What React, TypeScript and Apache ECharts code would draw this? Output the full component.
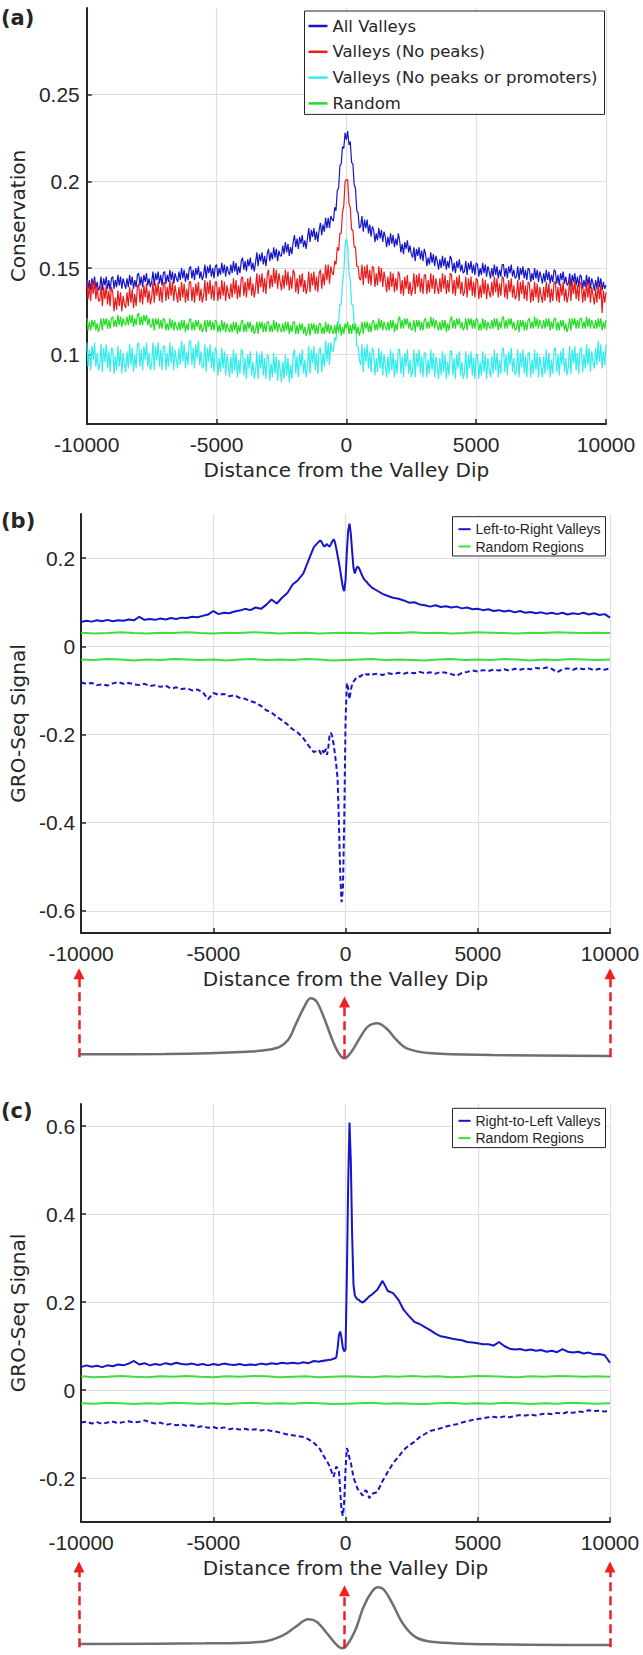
import React, { useEffect, useRef } from 'react';
import * as echarts from 'echarts';

// ---------- axis ticks ----------
const X_MIN = -10000;
const X_MAX = 10000;
const X_INTERVAL = 5000;
const yTicksA = [0.1, 0.15, 0.2, 0.25];
const yTicksB = [-0.6, -0.4, -0.2, 0, 0.2];
const yTicksC = [-0.2, 0, 0.2, 0.4, 0.6];

// ---------- sampling grids (distance from valley dip) ----------
const range = (a: number, b: number, s: number) => { const r: number[] = []; for (let x = a; x <= b; x += s) r.push(x); return r; };
const xA = range(-10000, 10000, 50); // 401 points
const xFine = [...range(-10000, -1000, 200), ...range(-950, 950, 50), ...range(1000, 10000, 200)]; // 131 points
const xGreen = range(-10000, 10000, 500); // 41 points

// ---------- panel (a): conservation (one row = 500 bp) ----------
const allValleys = [
  0.145, 0.138, 0.143, 0.137, 0.144, 0.140, 0.145, 0.138, 0.142, 0.137,
  0.139, 0.145, 0.137, 0.144, 0.140, 0.145, 0.138, 0.143, 0.137, 0.144,
  0.145, 0.138, 0.143, 0.139, 0.146, 0.140, 0.145, 0.138, 0.144, 0.141,
  0.138, 0.144, 0.139, 0.146, 0.140, 0.145, 0.138, 0.143, 0.139, 0.146,
  0.147, 0.140, 0.145, 0.139, 0.146, 0.142, 0.147, 0.140, 0.144, 0.139,
  0.142, 0.148, 0.140, 0.147, 0.143, 0.148, 0.141, 0.146, 0.140, 0.147,
  0.148, 0.141, 0.146, 0.142, 0.149, 0.143, 0.148, 0.141, 0.147, 0.144,
  0.142, 0.148, 0.143, 0.150, 0.144, 0.149, 0.142, 0.147, 0.143, 0.150,
  0.151, 0.144, 0.149, 0.143, 0.150, 0.146, 0.151, 0.144, 0.148, 0.143,
  0.146, 0.152, 0.144, 0.151, 0.147, 0.152, 0.145, 0.150, 0.144, 0.151,
  0.152, 0.145, 0.150, 0.146, 0.153, 0.147, 0.152, 0.145, 0.151, 0.148,
  0.146, 0.152, 0.147, 0.154, 0.148, 0.153, 0.146, 0.151, 0.147, 0.154,
  0.156, 0.149, 0.154, 0.148, 0.155, 0.151, 0.156, 0.149, 0.153, 0.148,
  0.153, 0.159, 0.151, 0.158, 0.154, 0.159, 0.152, 0.157, 0.151, 0.158,
  0.161, 0.154, 0.159, 0.155, 0.162, 0.156, 0.161, 0.154, 0.160, 0.157,
  0.157, 0.163, 0.158, 0.165, 0.159, 0.164, 0.157, 0.162, 0.158, 0.165,
  0.169, 0.162, 0.167, 0.161, 0.168, 0.164, 0.169, 0.162, 0.166, 0.161,
  0.167, 0.173, 0.165, 0.172, 0.168, 0.173, 0.166, 0.171, 0.165, 0.172,
  0.176, 0.169, 0.175, 0.171, 0.179, 0.173, 0.179, 0.173, 0.180, 0.178,
  0.177, 0.185, 0.183, 0.195, 0.196, 0.209, 0.210, 0.220, 0.219, 0.228,
  0.224,
  0.229, 0.221, 0.223, 0.211, 0.210, 0.198, 0.196, 0.183, 0.182, 0.173,
  0.174, 0.180, 0.171, 0.178, 0.173, 0.178, 0.170, 0.175, 0.168, 0.174,
  0.172, 0.165, 0.170, 0.166, 0.173, 0.167, 0.172, 0.165, 0.171, 0.168,
  0.162, 0.168, 0.163, 0.170, 0.164, 0.169, 0.162, 0.167, 0.163, 0.170,
  0.166, 0.159, 0.164, 0.158, 0.165, 0.161, 0.166, 0.159, 0.163, 0.158,
  0.156, 0.162, 0.154, 0.161, 0.157, 0.162, 0.155, 0.160, 0.154, 0.161,
  0.158, 0.151, 0.156, 0.152, 0.159, 0.153, 0.158, 0.151, 0.157, 0.154,
  0.149, 0.155, 0.150, 0.157, 0.151, 0.156, 0.149, 0.154, 0.150, 0.157,
  0.155, 0.148, 0.153, 0.147, 0.154, 0.150, 0.155, 0.148, 0.152, 0.147,
  0.148, 0.154, 0.146, 0.153, 0.149, 0.154, 0.147, 0.152, 0.146, 0.153,
  0.152, 0.145, 0.150, 0.146, 0.153, 0.147, 0.152, 0.145, 0.151, 0.148,
  0.144, 0.150, 0.145, 0.152, 0.146, 0.151, 0.144, 0.149, 0.145, 0.152,
  0.152, 0.145, 0.150, 0.144, 0.151, 0.147, 0.152, 0.145, 0.149, 0.144,
  0.145, 0.151, 0.143, 0.150, 0.146, 0.151, 0.144, 0.149, 0.143, 0.150,
  0.149, 0.142, 0.147, 0.143, 0.150, 0.144, 0.149, 0.142, 0.148, 0.145,
  0.141, 0.147, 0.142, 0.149, 0.143, 0.148, 0.141, 0.146, 0.142, 0.149,
  0.148, 0.141, 0.146, 0.140, 0.147, 0.143, 0.148, 0.141, 0.145, 0.140,
  0.141, 0.147, 0.139, 0.146, 0.142, 0.147, 0.140, 0.145, 0.139, 0.146,
  0.145, 0.138, 0.143, 0.139, 0.146, 0.140, 0.145, 0.138, 0.144, 0.141,
  0.137, 0.143, 0.138, 0.145, 0.139, 0.144, 0.137, 0.142, 0.138, 0.140,
];
const valleysNoPeaks = [
  0.143, 0.132, 0.140, 0.131, 0.142, 0.135, 0.143, 0.132, 0.139, 0.131,
  0.131, 0.140, 0.128, 0.139, 0.132, 0.140, 0.129, 0.137, 0.128, 0.139,
  0.136, 0.125, 0.133, 0.126, 0.137, 0.128, 0.136, 0.125, 0.134, 0.129,
  0.127, 0.136, 0.128, 0.139, 0.130, 0.138, 0.127, 0.135, 0.128, 0.139,
  0.141, 0.130, 0.138, 0.129, 0.140, 0.133, 0.141, 0.130, 0.137, 0.129,
  0.133, 0.142, 0.130, 0.141, 0.134, 0.142, 0.131, 0.139, 0.130, 0.141,
  0.142, 0.131, 0.139, 0.132, 0.143, 0.134, 0.142, 0.131, 0.140, 0.135,
  0.130, 0.139, 0.131, 0.142, 0.133, 0.141, 0.130, 0.138, 0.131, 0.142,
  0.142, 0.131, 0.139, 0.130, 0.141, 0.134, 0.142, 0.131, 0.138, 0.130,
  0.134, 0.143, 0.131, 0.142, 0.135, 0.143, 0.132, 0.140, 0.131, 0.142,
  0.142, 0.131, 0.139, 0.132, 0.143, 0.134, 0.142, 0.131, 0.140, 0.135,
  0.132, 0.141, 0.133, 0.144, 0.135, 0.143, 0.132, 0.140, 0.133, 0.144,
  0.145, 0.134, 0.142, 0.133, 0.144, 0.137, 0.145, 0.134, 0.141, 0.133,
  0.138, 0.147, 0.135, 0.146, 0.139, 0.147, 0.136, 0.144, 0.135, 0.146,
  0.149, 0.138, 0.146, 0.139, 0.150, 0.141, 0.149, 0.138, 0.147, 0.142,
  0.137, 0.146, 0.138, 0.149, 0.140, 0.148, 0.137, 0.145, 0.138, 0.149,
  0.147, 0.136, 0.144, 0.135, 0.146, 0.139, 0.147, 0.136, 0.143, 0.135,
  0.139, 0.148, 0.136, 0.147, 0.140, 0.148, 0.137, 0.145, 0.136, 0.147,
  0.149, 0.138, 0.147, 0.140, 0.152, 0.143, 0.152, 0.141, 0.151, 0.147,
  0.146, 0.154, 0.152, 0.162, 0.160, 0.170, 0.170, 0.182, 0.186, 0.200,
  0.201,
  0.201, 0.187, 0.185, 0.172, 0.172, 0.162, 0.162, 0.151, 0.151, 0.144,
  0.143, 0.152, 0.140, 0.151, 0.144, 0.152, 0.141, 0.149, 0.140, 0.151,
  0.150, 0.139, 0.147, 0.140, 0.151, 0.142, 0.150, 0.139, 0.148, 0.143,
  0.136, 0.145, 0.137, 0.148, 0.139, 0.147, 0.136, 0.144, 0.137, 0.148,
  0.146, 0.135, 0.143, 0.134, 0.145, 0.138, 0.146, 0.135, 0.142, 0.134,
  0.138, 0.147, 0.135, 0.146, 0.139, 0.147, 0.136, 0.144, 0.135, 0.146,
  0.146, 0.135, 0.143, 0.136, 0.147, 0.138, 0.146, 0.135, 0.144, 0.139,
  0.135, 0.144, 0.136, 0.147, 0.138, 0.146, 0.135, 0.143, 0.136, 0.147,
  0.146, 0.135, 0.143, 0.134, 0.145, 0.138, 0.146, 0.135, 0.142, 0.134,
  0.136, 0.145, 0.133, 0.144, 0.137, 0.145, 0.134, 0.142, 0.133, 0.144,
  0.143, 0.132, 0.140, 0.133, 0.144, 0.135, 0.143, 0.132, 0.141, 0.136,
  0.133, 0.142, 0.134, 0.145, 0.136, 0.144, 0.133, 0.141, 0.134, 0.145,
  0.144, 0.133, 0.141, 0.132, 0.143, 0.136, 0.144, 0.133, 0.140, 0.132,
  0.134, 0.143, 0.131, 0.142, 0.135, 0.143, 0.132, 0.140, 0.131, 0.142,
  0.141, 0.130, 0.138, 0.131, 0.142, 0.133, 0.141, 0.130, 0.139, 0.134,
  0.130, 0.139, 0.131, 0.142, 0.133, 0.141, 0.130, 0.138, 0.131, 0.142,
  0.142, 0.131, 0.139, 0.130, 0.141, 0.134, 0.142, 0.131, 0.138, 0.130,
  0.134, 0.143, 0.131, 0.142, 0.135, 0.143, 0.132, 0.140, 0.131, 0.142,
  0.141, 0.130, 0.138, 0.131, 0.142, 0.133, 0.141, 0.130, 0.139, 0.134,
  0.129, 0.138, 0.130, 0.141, 0.132, 0.140, 0.124, 0.137, 0.130, 0.136,
];
const valleysNoPeaksNoPromoters = [
  0.107, 0.093, 0.103, 0.091, 0.105, 0.097, 0.107, 0.093, 0.101, 0.091,
  0.094, 0.106, 0.090, 0.104, 0.096, 0.106, 0.092, 0.102, 0.090, 0.104,
  0.103, 0.089, 0.099, 0.091, 0.105, 0.093, 0.103, 0.089, 0.101, 0.095,
  0.090, 0.102, 0.092, 0.106, 0.094, 0.104, 0.090, 0.100, 0.092, 0.106,
  0.107, 0.093, 0.103, 0.091, 0.105, 0.097, 0.107, 0.093, 0.101, 0.091,
  0.095, 0.107, 0.091, 0.105, 0.097, 0.107, 0.093, 0.103, 0.091, 0.105,
  0.105, 0.091, 0.101, 0.093, 0.107, 0.095, 0.105, 0.091, 0.103, 0.097,
  0.092, 0.104, 0.094, 0.108, 0.096, 0.106, 0.092, 0.102, 0.094, 0.108,
  0.108, 0.094, 0.104, 0.092, 0.106, 0.098, 0.108, 0.094, 0.102, 0.092,
  0.094, 0.106, 0.090, 0.104, 0.096, 0.106, 0.092, 0.102, 0.090, 0.104,
  0.102, 0.088, 0.098, 0.090, 0.104, 0.092, 0.102, 0.088, 0.100, 0.094,
  0.087, 0.099, 0.089, 0.103, 0.091, 0.101, 0.087, 0.097, 0.089, 0.103,
  0.102, 0.088, 0.098, 0.086, 0.100, 0.092, 0.102, 0.088, 0.096, 0.086,
  0.090, 0.102, 0.086, 0.100, 0.092, 0.102, 0.088, 0.098, 0.086, 0.100,
  0.099, 0.085, 0.095, 0.087, 0.101, 0.089, 0.099, 0.085, 0.097, 0.091,
  0.084, 0.096, 0.086, 0.100, 0.088, 0.098, 0.084, 0.094, 0.086, 0.100,
  0.103, 0.089, 0.099, 0.087, 0.101, 0.093, 0.103, 0.089, 0.097, 0.087,
  0.093, 0.105, 0.089, 0.103, 0.095, 0.105, 0.091, 0.101, 0.089, 0.103,
  0.104, 0.090, 0.101, 0.093, 0.108, 0.096, 0.107, 0.094, 0.107, 0.102,
  0.102, 0.110, 0.108, 0.119, 0.118, 0.129, 0.129, 0.142, 0.147, 0.163,
  0.167,
  0.163, 0.147, 0.143, 0.129, 0.129, 0.118, 0.117, 0.105, 0.105, 0.097,
  0.094, 0.106, 0.090, 0.104, 0.096, 0.106, 0.092, 0.102, 0.090, 0.104,
  0.102, 0.088, 0.098, 0.090, 0.104, 0.092, 0.102, 0.088, 0.100, 0.094,
  0.087, 0.099, 0.089, 0.103, 0.091, 0.101, 0.087, 0.097, 0.089, 0.103,
  0.103, 0.089, 0.099, 0.087, 0.101, 0.093, 0.103, 0.089, 0.097, 0.087,
  0.091, 0.103, 0.087, 0.101, 0.093, 0.103, 0.089, 0.099, 0.087, 0.101,
  0.101, 0.087, 0.097, 0.089, 0.103, 0.091, 0.101, 0.087, 0.099, 0.093,
  0.086, 0.098, 0.088, 0.102, 0.090, 0.100, 0.086, 0.096, 0.088, 0.102,
  0.102, 0.088, 0.098, 0.086, 0.100, 0.092, 0.102, 0.088, 0.096, 0.086,
  0.090, 0.102, 0.086, 0.100, 0.092, 0.102, 0.088, 0.098, 0.086, 0.100,
  0.100, 0.086, 0.096, 0.088, 0.102, 0.090, 0.100, 0.086, 0.098, 0.092,
  0.087, 0.099, 0.089, 0.103, 0.091, 0.101, 0.087, 0.097, 0.089, 0.103,
  0.104, 0.090, 0.100, 0.088, 0.102, 0.094, 0.104, 0.090, 0.098, 0.088,
  0.091, 0.103, 0.087, 0.101, 0.093, 0.103, 0.089, 0.099, 0.087, 0.101,
  0.101, 0.087, 0.097, 0.089, 0.103, 0.091, 0.101, 0.087, 0.099, 0.093,
  0.087, 0.099, 0.089, 0.103, 0.091, 0.101, 0.087, 0.097, 0.089, 0.103,
  0.104, 0.090, 0.100, 0.088, 0.102, 0.094, 0.104, 0.090, 0.098, 0.088,
  0.093, 0.105, 0.089, 0.103, 0.095, 0.105, 0.091, 0.101, 0.089, 0.103,
  0.104, 0.090, 0.100, 0.092, 0.106, 0.094, 0.104, 0.090, 0.102, 0.096,
  0.092, 0.104, 0.094, 0.108, 0.096, 0.106, 0.092, 0.102, 0.094, 0.106,
];
const randomA = [
  0.121, 0.114, 0.119, 0.114, 0.120, 0.116, 0.120, 0.114, 0.118, 0.113,
  0.116, 0.121, 0.114, 0.121, 0.117, 0.121, 0.115, 0.120, 0.115, 0.121,
  0.122, 0.116, 0.120, 0.116, 0.123, 0.117, 0.122, 0.116, 0.121, 0.118,
  0.117, 0.122, 0.117, 0.123, 0.118, 0.123, 0.116, 0.121, 0.117, 0.123,
  0.124, 0.117, 0.122, 0.117, 0.123, 0.119, 0.123, 0.117, 0.121, 0.116,
  0.116, 0.121, 0.114, 0.121, 0.117, 0.121, 0.115, 0.120, 0.115, 0.121,
  0.120, 0.114, 0.118, 0.114, 0.121, 0.115, 0.120, 0.114, 0.119, 0.116,
  0.114, 0.119, 0.114, 0.120, 0.115, 0.120, 0.113, 0.118, 0.114, 0.120,
  0.121, 0.114, 0.119, 0.114, 0.120, 0.116, 0.120, 0.114, 0.118, 0.113,
  0.115, 0.120, 0.113, 0.120, 0.116, 0.120, 0.114, 0.119, 0.114, 0.120,
  0.119, 0.113, 0.117, 0.113, 0.120, 0.114, 0.119, 0.113, 0.118, 0.115,
  0.113, 0.118, 0.113, 0.119, 0.114, 0.119, 0.112, 0.117, 0.113, 0.119,
  0.120, 0.113, 0.118, 0.113, 0.119, 0.115, 0.119, 0.113, 0.117, 0.112,
  0.114, 0.119, 0.112, 0.119, 0.115, 0.119, 0.113, 0.118, 0.113, 0.119,
  0.119, 0.113, 0.117, 0.113, 0.120, 0.114, 0.119, 0.113, 0.118, 0.115,
  0.113, 0.118, 0.113, 0.119, 0.114, 0.119, 0.112, 0.117, 0.113, 0.119,
  0.119, 0.112, 0.117, 0.112, 0.118, 0.114, 0.118, 0.112, 0.116, 0.111,
  0.113, 0.118, 0.111, 0.118, 0.114, 0.118, 0.112, 0.117, 0.112, 0.118,
  0.118, 0.112, 0.116, 0.112, 0.119, 0.113, 0.118, 0.112, 0.117, 0.114,
  0.112, 0.117, 0.112, 0.118, 0.113, 0.118, 0.111, 0.116, 0.112, 0.118,
  0.115,
  0.119, 0.112, 0.117, 0.112, 0.118, 0.114, 0.118, 0.112, 0.116, 0.111,
  0.114, 0.119, 0.112, 0.119, 0.115, 0.119, 0.113, 0.118, 0.113, 0.119,
  0.120, 0.114, 0.118, 0.114, 0.121, 0.115, 0.120, 0.114, 0.119, 0.116,
  0.114, 0.119, 0.114, 0.120, 0.115, 0.120, 0.113, 0.118, 0.114, 0.120,
  0.122, 0.115, 0.120, 0.115, 0.121, 0.117, 0.121, 0.115, 0.119, 0.114,
  0.115, 0.120, 0.113, 0.120, 0.116, 0.120, 0.114, 0.119, 0.114, 0.120,
  0.121, 0.115, 0.119, 0.115, 0.122, 0.116, 0.121, 0.115, 0.120, 0.117,
  0.114, 0.119, 0.114, 0.120, 0.115, 0.120, 0.113, 0.118, 0.114, 0.120,
  0.122, 0.115, 0.120, 0.115, 0.121, 0.117, 0.121, 0.115, 0.119, 0.114,
  0.116, 0.121, 0.114, 0.121, 0.117, 0.121, 0.115, 0.120, 0.115, 0.121,
  0.120, 0.114, 0.118, 0.114, 0.121, 0.115, 0.120, 0.114, 0.119, 0.116,
  0.115, 0.120, 0.115, 0.121, 0.116, 0.121, 0.114, 0.119, 0.115, 0.121,
  0.122, 0.115, 0.120, 0.115, 0.121, 0.117, 0.121, 0.115, 0.119, 0.114,
  0.115, 0.120, 0.113, 0.120, 0.116, 0.120, 0.114, 0.119, 0.114, 0.120,
  0.121, 0.115, 0.119, 0.115, 0.122, 0.116, 0.121, 0.115, 0.120, 0.117,
  0.115, 0.120, 0.115, 0.121, 0.116, 0.121, 0.114, 0.119, 0.115, 0.121,
  0.121, 0.114, 0.119, 0.114, 0.120, 0.116, 0.120, 0.114, 0.118, 0.113,
  0.116, 0.121, 0.114, 0.121, 0.117, 0.121, 0.115, 0.120, 0.115, 0.121,
  0.121, 0.115, 0.119, 0.115, 0.122, 0.116, 0.121, 0.115, 0.120, 0.117,
  0.115, 0.120, 0.115, 0.121, 0.116, 0.121, 0.114, 0.119, 0.115, 0.120,
];

// ---------- panel (b): Left-to-Right valleys (GRO-seq) ----------
const ltrPlus = [
  0.055, 0.058, 0.056, 0.059, 0.057, 0.060, 0.057, 0.059, 0.058, 0.061,
  0.059, 0.067, 0.060, 0.062, 0.060, 0.063, 0.061, 0.064, 0.062, 0.065,
  0.064, 0.067, 0.066, 0.069, 0.072, 0.080, 0.073, 0.076, 0.075, 0.079,
  0.081, 0.085, 0.082, 0.088, 0.085, 0.094, 0.106, 0.097, 0.110, 0.121,
  0.140, 0.150, 0.165, 0.195, 0.225, 0.238,
  0.240, 0.236, 0.230, 0.226, 0.229, 0.232, 0.228, 0.226, 0.232, 0.238,
  0.243, 0.236, 0.222, 0.206, 0.190, 0.172, 0.152, 0.133, 0.125,
  0.150,
  0.215, 0.262, 0.278, 0.255, 0.215, 0.178, 0.165, 0.175, 0.181, 0.178,
  0.172, 0.164, 0.158, 0.152, 0.149, 0.146, 0.142, 0.139, 0.136,
  0.133, 0.126, 0.119, 0.114, 0.110, 0.108, 0.104, 0.099, 0.100, 0.095,
  0.093, 0.090, 0.093, 0.089, 0.091, 0.088, 0.090, 0.086, 0.088, 0.084,
  0.085, 0.082, 0.084, 0.080, 0.082, 0.079, 0.081, 0.077, 0.080, 0.076,
  0.078, 0.075, 0.077, 0.074, 0.076, 0.073, 0.076, 0.072, 0.075, 0.073,
  0.076, 0.072, 0.075, 0.071, 0.073, 0.065,
];
const ltrMinus = [
  -0.082, -0.085, -0.083, -0.088, -0.086, -0.089, -0.084, -0.081, -0.085, -0.083,
  -0.086, -0.088, -0.085, -0.090, -0.088, -0.092, -0.089, -0.096, -0.093, -0.097,
  -0.095, -0.100, -0.098, -0.104, -0.120, -0.106, -0.110, -0.108, -0.113, -0.111,
  -0.117, -0.119, -0.124, -0.128, -0.135, -0.145, -0.150, -0.160, -0.168, -0.177,
  -0.188, -0.196, -0.208, -0.225, -0.240, -0.235,
  -0.242, -0.246, -0.236, -0.244, -0.232, -0.246, -0.228, -0.200, -0.196, -0.205,
  -0.222, -0.245, -0.270, -0.300, -0.400, -0.520, -0.580, -0.550, -0.400,
  -0.170,
  -0.083, -0.095, -0.120, -0.100, -0.085, -0.080, -0.076, -0.072, -0.070, -0.068,
  -0.069, -0.066, -0.065, -0.067, -0.064, -0.063, -0.065, -0.062, -0.063,
  -0.064, -0.062, -0.065, -0.061, -0.063, -0.060, -0.062, -0.059, -0.061, -0.058,
  -0.061, -0.059, -0.062, -0.058, -0.060, -0.063, -0.067, -0.060, -0.058, -0.055,
  -0.057, -0.054, -0.056, -0.053, -0.055, -0.052, -0.055, -0.051, -0.053, -0.050,
  -0.052, -0.049, -0.051, -0.048, -0.051, -0.059, -0.052, -0.050, -0.053, -0.049,
  -0.052, -0.050, -0.054, -0.051, -0.053, -0.050,
];
const randomPlus = [
  0.031, 0.029, 0.030, 0.032, 0.030, 0.029, 0.031, 0.030, 0.032, 0.030,
  0.029, 0.031, 0.030, 0.032, 0.031, 0.029, 0.030, 0.031, 0.029, 0.030,
  0.031, 0.030, 0.029, 0.031, 0.030, 0.032, 0.030, 0.031, 0.029, 0.030,
  0.032, 0.031, 0.030, 0.029, 0.031, 0.030, 0.032, 0.031, 0.030, 0.031,
  0.030,
];
const randomMinus = [
  -0.030, -0.031, -0.029, -0.030, -0.032, -0.030, -0.031, -0.029, -0.030, -0.031,
  -0.030, -0.032, -0.030, -0.029, -0.031, -0.030, -0.031, -0.029, -0.030, -0.032,
  -0.031, -0.030, -0.029, -0.031, -0.030, -0.031, -0.032, -0.030, -0.029, -0.031,
  -0.030, -0.031, -0.029, -0.030, -0.032, -0.030, -0.031, -0.029, -0.030, -0.031,
  -0.030,
];

// ---------- panel (c): Right-to-Left valleys (GRO-seq) ----------
const rtlPlus = [
  0.052, 0.056, 0.053, 0.055, 0.052, 0.056, 0.054, 0.058, 0.056, 0.060,
  0.066, 0.058, 0.061, 0.056, 0.059, 0.057, 0.061, 0.058, 0.062, 0.059,
  0.058, 0.060, 0.057, 0.059, 0.056, 0.059, 0.057, 0.060, 0.058, 0.057,
  0.059, 0.056, 0.058, 0.057, 0.060, 0.058, 0.061, 0.059, 0.062, 0.060,
  0.062, 0.060, 0.063, 0.061, 0.066, 0.064,
  0.066, 0.065, 0.067, 0.066, 0.068, 0.067, 0.069, 0.068, 0.069, 0.070,
  0.071, 0.072, 0.074, 0.095, 0.125, 0.133, 0.118, 0.095, 0.088,
  0.092,
  0.260, 0.470, 0.608, 0.520, 0.350, 0.240, 0.215, 0.210, 0.206, 0.205,
  0.202, 0.200, 0.199, 0.201, 0.204, 0.207, 0.210, 0.213, 0.215,
  0.217, 0.228, 0.248, 0.225, 0.220, 0.205, 0.182, 0.168, 0.155, 0.150,
  0.143, 0.136, 0.128, 0.122, 0.120, 0.117, 0.115, 0.113, 0.109, 0.108,
  0.106, 0.104, 0.104, 0.101, 0.109, 0.100, 0.094, 0.092, 0.093, 0.090,
  0.092, 0.089, 0.091, 0.087, 0.089, 0.086, 0.093, 0.087, 0.085, 0.087,
  0.083, 0.085, 0.081, 0.082, 0.079, 0.062,
];
const rtlMinus = [
  -0.074, -0.072, -0.076, -0.073, -0.077, -0.074, -0.072, -0.075, -0.073, -0.071,
  -0.074, -0.072, -0.069, -0.073, -0.076, -0.074, -0.079, -0.077, -0.080, -0.078,
  -0.082, -0.080, -0.084, -0.082, -0.086, -0.084, -0.088, -0.085, -0.089, -0.087,
  -0.090, -0.088, -0.091, -0.089, -0.092, -0.090, -0.093, -0.095, -0.098, -0.101,
  -0.103, -0.105, -0.107, -0.112, -0.120, -0.132,
  -0.136, -0.142, -0.148, -0.152, -0.158, -0.162, -0.168, -0.174, -0.182, -0.190,
  -0.197, -0.185, -0.174, -0.178, -0.185, -0.230, -0.275, -0.286, -0.255,
  -0.180,
  -0.132, -0.140, -0.155, -0.165, -0.182, -0.198, -0.207, -0.215, -0.224, -0.228,
  -0.233, -0.236, -0.240, -0.234, -0.228, -0.230, -0.238, -0.246, -0.240,
  -0.236, -0.232, -0.207, -0.186, -0.166, -0.152, -0.136, -0.126, -0.118, -0.107,
  -0.100, -0.093, -0.090, -0.087, -0.083, -0.080, -0.078, -0.074, -0.071, -0.068,
  -0.066, -0.064, -0.062, -0.061, -0.063, -0.060, -0.062, -0.059, -0.057, -0.058,
  -0.056, -0.058, -0.055, -0.053, -0.055, -0.052, -0.054, -0.050, -0.052, -0.049,
  -0.050, -0.046, -0.048, -0.047, -0.049, -0.048,
];

// ---------- schematic profiles under (b) and (c) ----------
const profileBx = [-10000, -6760, -3670, -2590, -2128, -1820, -1511, -1280, -1049, -740, -432, -200, 0, 262, 571, 879, 1234, 1573, 1958, 2344, 3270, 5582, 10000];
const profileBy = [12, 13, 20, 30, 55, 105, 155, 180, 170, 115, 50, 13, 0, 20, 60, 95, 105, 90, 55, 30, 15, 10, 7];
const profileCx = [-10000, -5220, -3070, -2290, -1830, -1370, -1050, -660, -350, -90, 100, 410, 720, 1030, 1260, 1490, 1800, 2190, 2650, 3270, 5580, 10000];
const profileCy = [13, 15, 20, 40, 65, 87, 80, 45, 15, 0, 10, 55, 125, 170, 183, 175, 135, 75, 35, 20, 12, 10];
const arrowXs = [-10000, 0, 10000];
const arrowBaseB = [3, 0, 3];
const arrowTopB = [254, 169, 254];
const arrowBaseC = [3, 0, 3];
const arrowTopC = [244, 173, 244];

// ---------- styling ----------
const FONT = "'Liberation Sans', Arial, Helvetica, sans-serif";
const WIDE = "'DejaVu Sans', Verdana, sans-serif";
const INK = '#262626';
const GRIDLINE = '#dedede';
const BLUE = '#1616c8';
const RED = '#e81c1c';
const CYAN = '#33ecec';
const GREEN = '#22dd22';
const GREEN2 = '#40dc40';
const GRAY = '#6f6f6f';
const ARROW = '#ee2020';

const pairs = (xs: number[], ys: number[]) => xs.map((x, i) => [x, ys[i]]);

const xAxisMain = (gridIndex: number) => ({
  type: 'value', gridIndex, min: X_MIN, max: X_MAX, interval: X_INTERVAL,
  axisLine: { show: true, onZero: false, lineStyle: { color: INK, width: 2 } },
  axisTick: { show: true, inside: true, length: 5, lineStyle: { color: INK, width: 1.5 } },
  axisLabel: { fontSize: 21, color: INK, margin: 10, fontFamily: FONT, formatter: (v: number) => String(v) },
  splitLine: { show: true, lineStyle: { color: GRIDLINE, width: 1.2 } },
  name: 'Distance from the Valley Dip', nameLocation: 'middle', nameGap: 35.5,
  nameTextStyle: { fontSize: 20, color: INK, fontFamily: WIDE },
});
const yAxisMain = (gridIndex: number, min: number, max: number, ticks: number[], name: string, nameGap: number, margin: number) => ({
  type: 'value', gridIndex, min, max,
  axisLine: { show: true, onZero: false, lineStyle: { color: INK, width: 2 } },
  axisTick: { show: true, inside: true, length: 5, customValues: ticks, lineStyle: { color: INK, width: 1.5 } },
  axisLabel: { fontSize: 21, color: INK, margin, fontFamily: FONT, customValues: ticks, formatter: (v: number) => String(v) },
  splitLine: { show: true, lineStyle: { color: GRIDLINE, width: 1.2 } },
  name, nameLocation: 'middle', nameGap,
  nameTextStyle: { fontSize: 20, color: INK, fontFamily: WIDE },
});
const hiddenX = (gridIndex: number) => ({ type: 'value', gridIndex, min: X_MIN, max: X_MAX, show: false });
const hiddenY = (gridIndex: number) => ({ type: 'value', gridIndex, min: 0, max: 300, show: false });

const lineSeries = (name: string, xi: number, data: number[][], color: string, width: number, dashed = false) => ({
  type: 'line', name, xAxisIndex: xi, yAxisIndex: xi, data,
  showSymbol: false, symbol: 'none', silent: true,
  lineStyle: { color, width, type: dashed ? [5, 3] : 'solid' },
  itemStyle: { color },
  emphasis: { disabled: true },
});

const arrowMarks = (bases: number[], tops: number[]) => ({
  silent: true,
  symbol: ['none', 'triangle'],
  symbolSize: 11,
  label: { show: false },
  emphasis: { disabled: true },
  lineStyle: { color: ARROW, width: 2.5, type: [9, 5] },
  itemStyle: { color: ARROW },
  data: arrowXs.map((x, i) => [{ coord: [x, bases[i]] }, { coord: [x, tops[i]] }]),
});

const panelLabel = (letter: string, top: number) => ({
  text: `{p|(}{b|${letter}}{p|)}`, left: 1, top, padding: 0,
  textStyle: {
    rich: {
      p: { fontSize: 21, fontFamily: WIDE, color: INK },
      b: { fontSize: 21, fontFamily: WIDE, color: INK, fontWeight: 'bold' },
    },
  },
});

const legendBase = {
  orient: 'vertical', icon: 'rect', selectedMode: false,
  backgroundColor: '#ffffff', borderColor: INK, borderWidth: 1, borderRadius: 0,
};

const option = {
  animation: false,
  backgroundColor: '#ffffff',
  title: [panelLabel('a', 7), panelLabel('b', 510), panelLabel('c', 1100)],
  grid: [
    { left: 77, top: 8, width: 529, height: 416 },
    { left: 79, top: 514, width: 531, height: 419 },
    { left: 79, top: 958.3, width: 531, height: 100 },
    { left: 79, top: 1104, width: 531, height: 418 },
    { left: 79, top: 1548.3, width: 531, height: 100 },
  ],
  xAxis: [xAxisMain(0), xAxisMain(1), hiddenX(2), xAxisMain(3), hiddenX(4)],
  yAxis: [
    yAxisMain(0, 0.06, 0.3, yTicksA, 'Conservation', 54, 7),
    yAxisMain(1, -0.65, 0.3, yTicksB, 'GRO-Seq Signal', 49, 6),
    hiddenY(2),
    yAxisMain(3, -0.3, 0.65, yTicksC, 'GRO-Seq Signal', 49, 6),
    hiddenY(4),
  ],
  legend: [
    {
      ...legendBase,
      data: ['All Valleys', 'Valleys (No peaks)', 'Valleys (No peaks or promoters)', 'Random'],
      left: 304.5, top: 11, itemWidth: 19, itemHeight: 2.5, itemGap: 5.8, padding: [5, 7, 1, 4],
      textStyle: { fontSize: 16.5, lineHeight: 20, color: INK, fontFamily: WIDE },
    },
    {
      ...legendBase,
      data: ['Left-to-Right Valleys', 'Random Regions'],
      left: 452.5, top: 516.7, itemWidth: 12, itemHeight: 2, itemGap: 2.3, padding: [5, 5, 2, 6],
      textStyle: { fontSize: 14, lineHeight: 15, color: INK, fontFamily: FONT },
    },
    {
      ...legendBase,
      data: ['Right-to-Left Valleys', 'Random Regions'],
      left: 452.5, top: 1108.3, itemWidth: 12, itemHeight: 2, itemGap: 2.3, padding: [5, 5, 2, 6],
      textStyle: { fontSize: 14, lineHeight: 15, color: INK, fontFamily: FONT },
    },
  ],
  series: [
    lineSeries('All Valleys', 0, pairs(xA, allValleys), BLUE, 1.2),
    lineSeries('Valleys (No peaks)', 0, pairs(xA, valleysNoPeaks), RED, 1.2),
    lineSeries('Valleys (No peaks or promoters)', 0, pairs(xA, valleysNoPeaksNoPromoters), CYAN, 1.2),
    lineSeries('Random', 0, pairs(xA, randomA), GREEN, 1.2),

    lineSeries('Left-to-Right Valleys', 1, pairs(xFine, ltrPlus), BLUE, 2),
    lineSeries('Left-to-Right Valleys (reverse)', 1, pairs(xFine, ltrMinus), BLUE, 2, true),
    lineSeries('Random Regions', 1, pairs(xGreen, randomPlus), GREEN2, 2),
    lineSeries('Random Regions', 1, pairs(xGreen, randomMinus), GREEN2, 2),
    {
      ...lineSeries('Profile (b)', 2, pairs(profileBx, profileBy), GRAY, 2.5),
      smooth: 0.35, clip: false,
      markLine: arrowMarks(arrowBaseB, arrowTopB),
    },

    lineSeries('Right-to-Left Valleys', 3, pairs(xFine, rtlPlus), BLUE, 2),
    lineSeries('Right-to-Left Valleys (reverse)', 3, pairs(xFine, rtlMinus), BLUE, 2, true),
    lineSeries('Random Regions', 3, pairs(xGreen, randomPlus), GREEN2, 2),
    lineSeries('Random Regions', 3, pairs(xGreen, randomMinus), GREEN2, 2),
    {
      ...lineSeries('Profile (c)', 4, pairs(profileCx, profileCy), GRAY, 2.5),
      smooth: 0.35, clip: false,
      markLine: arrowMarks(arrowBaseC, arrowTopC),
    },
  ],
};

export default function App() {
  const ref = useRef<HTMLDivElement>(null);
  useEffect(() => {
    document.body.style.margin = '0';
    const chart = echarts.init(ref.current as HTMLDivElement, null, { renderer: 'svg' });
    chart.setOption(option as any);
    return () => chart.dispose();
  }, []);
  return <div ref={ref} style={{ width: 643, height: 1655 }} />;
}
